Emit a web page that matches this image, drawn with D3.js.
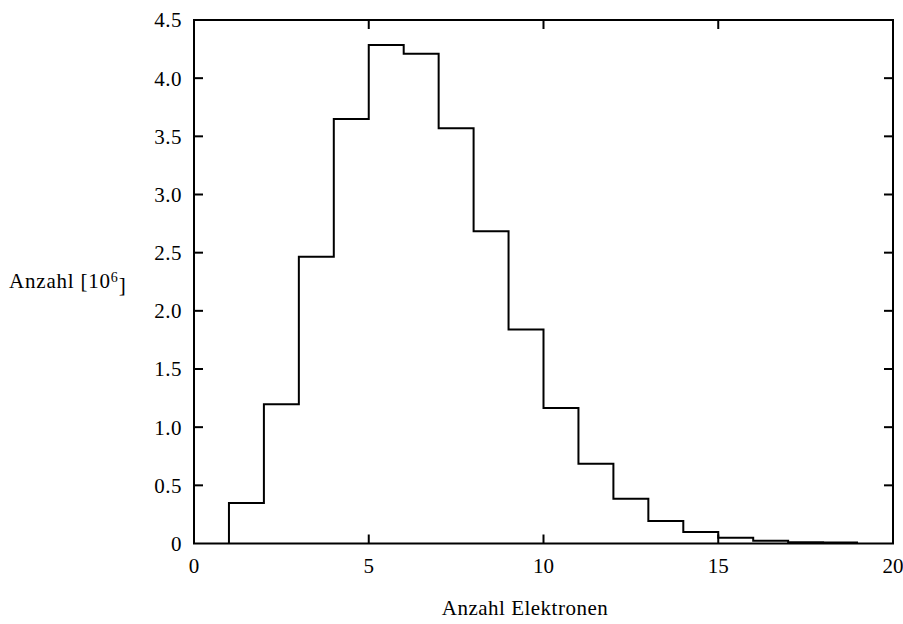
<!DOCTYPE html>
<html>
<head>
<meta charset="utf-8">
<script src="https://cdn.jsdelivr.net/npm/d3@7"></script>
<style>
  html, body { margin: 0; padding: 0; background: #fff; }
  svg text { font-family: "Liberation Serif", "DejaVu Serif", serif; fill: #000; }
</style>
</head>
<body>
<svg id="chart" width="903" height="624"></svg>
<script>
// Data: histogram bins [binStart, binStart+1)
const binStarts = [1, 2, 3, 4, 5, 6, 7, 8, 9, 10, 11, 12, 13, 14, 15, 16, 17, 18];
const counts = [0.348, 1.198, 2.464, 3.65, 4.285, 4.21, 3.57, 2.685, 1.84, 1.164, 0.686, 0.385, 0.193, 0.099, 0.05, 0.024, 0.01, 0.008];
const xTicks = [0, 5, 10, 15, 20];
const yTicks = [0, 0.5, 1.0, 1.5, 2.0, 2.5, 3.0, 3.5, 4.0, 4.5];
const xTitle = "Anzahl Elektronen";

const svg = d3.select("#chart");
const L = 194, R = 893, T = 20, B = 543.5;
const x = d3.scaleLinear().domain([0, 20]).range([L, R]);
const y = d3.scaleLinear().domain([0, 4.5]).range([B, T]);
const tickLen = 9;
const fs = 21;

// ticks (mirrored, inward)
const g = svg.append("g").attr("stroke", "#000").attr("stroke-width", 2);
xTicks.slice(1, -1).forEach(v => {
  g.append("line").attr("x1", x(v)).attr("x2", x(v)).attr("y1", B).attr("y2", B - tickLen);
  g.append("line").attr("x1", x(v)).attr("x2", x(v)).attr("y1", T).attr("y2", T + tickLen);
});
yTicks.slice(1, -1).forEach(v => {
  g.append("line").attr("x1", L).attr("x2", L + tickLen).attr("y1", y(v)).attr("y2", y(v));
  g.append("line").attr("x1", R).attr("x2", R - tickLen).attr("y1", y(v)).attr("y2", y(v));
});

// histogram steps
const pts = [[binStarts[0], 0]];
binStarts.forEach((b, i) => pts.push([b, counts[i]]));
pts.push([binStarts[binStarts.length - 1] + 1, counts[counts.length - 1]]);
const line = d3.line().x(d => x(d[0])).y(d => y(d[1])).curve(d3.curveStepAfter);
svg.append("path").attr("d", line(pts)).attr("fill", "none")
  .attr("stroke", "#000").attr("stroke-width", 2).attr("stroke-linejoin", "miter");

// frame
svg.append("rect").attr("x", L).attr("y", T).attr("width", R - L).attr("height", B - T)
  .attr("fill", "none").attr("stroke", "#000").attr("stroke-width", 2);

// tick labels
const fmtY = v => v === 0 ? "0" : d3.format(".1f")(v);
yTicks.forEach(v => {
  svg.append("text").attr("x", 182).attr("y", y(v)).attr("dy", "0.35em")
    .attr("text-anchor", "end").attr("font-size", fs).attr("letter-spacing", 0.5).text(fmtY(v));
});
xTicks.forEach(v => {
  svg.append("text").attr("x", x(v)).attr("y", 566).attr("dy", "0.35em")
    .attr("text-anchor", "middle").attr("font-size", fs).text(v);
});

// axis titles
svg.append("text").attr("x", 525).attr("y", 608).attr("dy", "0.35em")
  .attr("text-anchor", "middle").attr("font-size", fs).attr("letter-spacing", 0.5).text(xTitle);
const yl = svg.append("text").attr("x", 9).attr("y", 281).attr("dy", "0.35em")
  .attr("font-size", fs).attr("letter-spacing", 0.8);
yl.append("tspan").text("Anzahl");
yl.append("tspan").attr("dx", 6).text("[10");
yl.append("tspan").attr("dy", "-0.45em").attr("font-size", 14).text("6");
yl.append("tspan").attr("dy", "0.45em").text("]");
</script>
</body>
</html>
